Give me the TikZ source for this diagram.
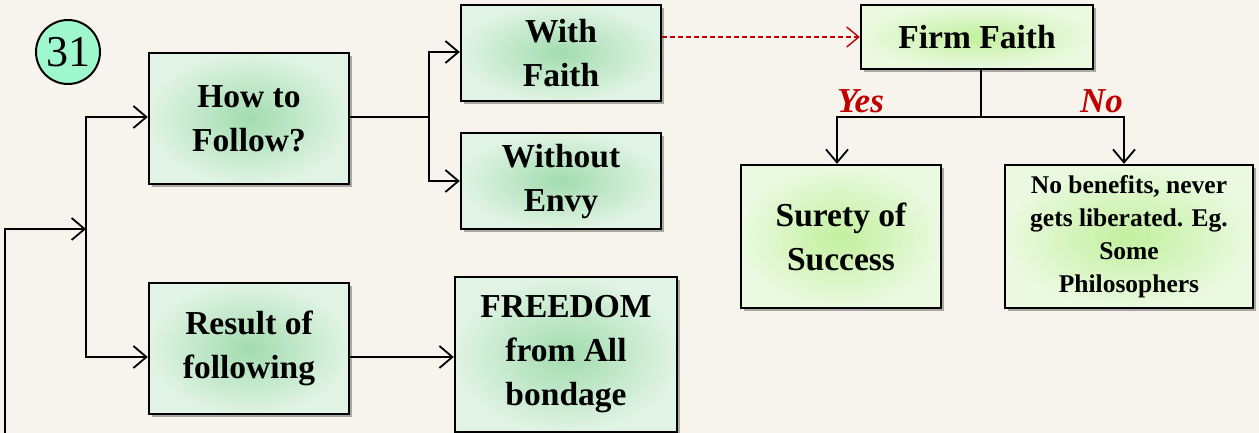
\documentclass[tikz,border=0pt]{standalone}
\usepackage{fontspec}
\setmainfont{Liberation Serif}
\usetikzlibrary{arrows.meta,shadows}
\definecolor{bgc}{HTML}{F6F4EC}
\definecolor{mintin}{HTML}{A2DCAE}
\definecolor{mintout}{HTML}{E0F3E4}
\definecolor{limein}{HTML}{C2F09E}
\definecolor{limeout}{HTML}{EAF9E0}
\definecolor{circfill}{HTML}{9FF7CE}
\definecolor{redlab}{HTML}{C00000}
\tikzset{
  basebox/.style={draw=black, line width=2.4pt, rectangle, align=center, inner sep=2pt,
    font=\fontsize{33.5}{44}\selectfont\bfseries,
    drop shadow={shadow xshift=2.5pt, shadow yshift=-3pt, opacity=0.45, fill=black!70}},
  mintbox/.style={basebox, inner color=mintin, outer color=mintout},
  limebox/.style={basebox, inner color=limein, outer color=limeout},
  arr/.style={draw=black, line width=1.8pt, -{Straight Barb[length=13pt,width=22pt]}},
  conn/.style={draw=black, line width=1.8pt},
  dasharr/.style={draw=redlab, line width=1.4pt, dash pattern=on 5pt off 3pt, -{Straight Barb[length=12pt,width=20pt]}},
  lab/.style={text=redlab, font=\fontsize{35}{40}\selectfont\bfseries\itshape, inner sep=0pt}
}
\begin{document}
\begin{tikzpicture}[x=1pt,y=-1pt]
\fill[bgc] (0,0) rectangle (1259,433);
\useasboundingbox (0,0) rectangle (1259,433);

\node[circle, draw=black, line width=2pt, fill=circfill, minimum size=64pt, inner sep=0pt,
  font=\fontsize{44}{44}\selectfont] (num) at (68,52) {31};

\node[mintbox, minimum width=200pt, minimum height=131pt] (how) at (249,118.5) {How to\\Follow?};
\node[mintbox, minimum width=200pt, minimum height=96pt] (withf) at (561,53) {With\\Faith};
\node[mintbox, minimum width=200pt, minimum height=96pt] (without) at (561,181) {Without\\Envy};
\node[mintbox, minimum width=200pt, minimum height=131pt] (result) at (249,348.5) {Result of\\following};
\node[mintbox, minimum width=222pt, minimum height=155pt] (freedom) at (566,354.5) {FREEDOM\\from All\\bondage};
\node[limebox, minimum width=232pt, minimum height=64pt] (firm) at (977,37) {Firm Faith};
\node[limebox, minimum width=200pt, minimum height=143pt] (surety) at (841,236.5) {Surety of\\Success};
\node[limebox, minimum width=248pt, minimum height=143pt, font=\fontsize{25.5}{33}\selectfont\bfseries] (nob) at (1129,236.5) {No benefits, never\\gets liberated. Eg.\\Some\\Philosophers};

% left feed
\coordinate (bot) at (5,433);
\coordinate (spine) at (86,229);
\draw[arr] (bot) |- (spine);
\draw[arr] (spine) |- ([yshift=1.5pt]how.west);
\draw[arr] (spine) |- ([yshift=-8.5pt]result.west);

% result -> freedom
\coordinate (r1) at ([yshift=-8.5pt]result.east);
\draw[arr] (r1) -- (r1 -| freedom.west);

% how -> with / without
\coordinate (hb) at (429,117);
\draw[conn] ([yshift=1.5pt]how.east) -- (hb);
\draw[arr] (hb) |- ([yshift=1pt]withf.west);
\draw[arr] (hb) |- (without.west);

% dashed to firm faith
\draw[dasharr] (withf.east |- firm.west) -- (firm.west);

% firm faith branches
\coordinate (fj) at (981,117);
\draw[conn] (fj |- firm.south) -- (fj);
\draw[arr] (fj) -| ([xshift=-4pt]surety.north);
\draw[arr] (fj) -| ([xshift=-5pt]nob.north);

\node[lab, anchor=base west] (yes) at (837,113) {Yes};
\node[lab, anchor=base east] (no) at (1123,113) {No};
\end{tikzpicture}
\end{document}
